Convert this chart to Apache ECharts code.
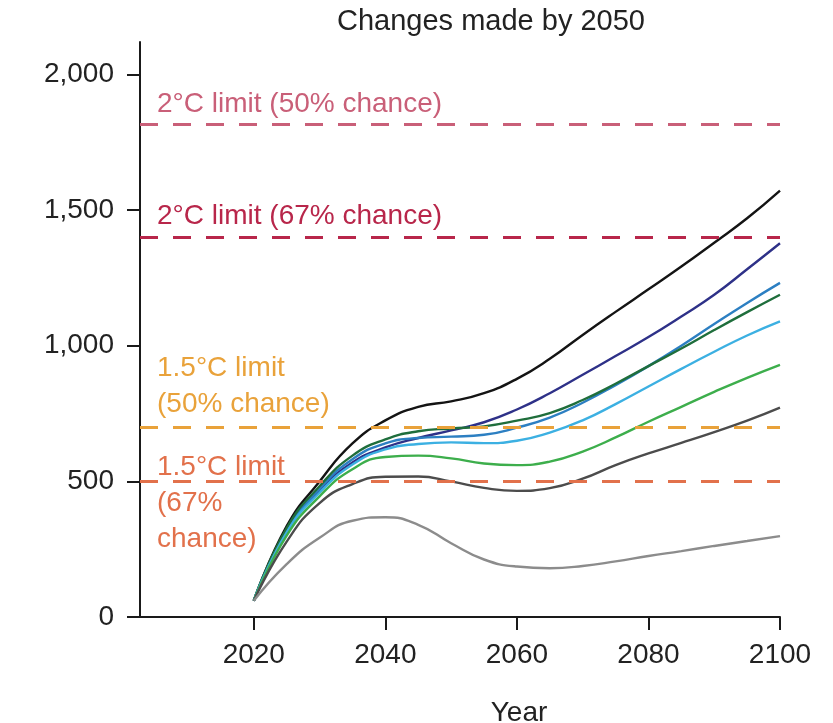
<!DOCTYPE html>
<html>
<head>
<meta charset="utf-8">
<script src="https://cdn.jsdelivr.net/npm/echarts@6/dist/echarts.min.js"></script>
<style>
html,body{margin:0;padding:0;background:#fff;}
#chart{width:833px;height:723px;}
</style>
</head>
<body>
<div id="chart"></div>
<script>
var years = [2020, 2025, 2030, 2035, 2040, 2045, 2050, 2055, 2060, 2065, 2070, 2075, 2080, 2085, 2090, 2095, 2100];

var blackSeries     = [60, 335, 500, 640, 725, 775, 795, 825, 878, 952, 1040, 1125, 1208, 1292, 1380, 1470, 1572];
var navySeries      = [60, 315, 465, 570, 625, 660, 688, 718, 765, 825, 893, 962, 1032, 1108, 1188, 1282, 1378];
var blueSeries      = [60, 320, 472, 582, 640, 660, 665, 672, 698, 735, 790, 855, 925, 1000, 1080, 1158, 1232];
var darkGreenSeries = [60, 328, 482, 595, 655, 685, 695, 703, 724, 752, 800, 860, 925, 990, 1058, 1124, 1188];
var lightBlueSeries = [60, 312, 458, 562, 618, 638, 644, 641, 650, 680, 725, 785, 850, 915, 978, 1038, 1090];
var greenSeries     = [60, 300, 445, 545, 590, 595, 585, 566, 560, 573, 610, 662, 720, 775, 830, 882, 930];
var darkGraySeries  = [60, 278, 420, 490, 517, 518, 500, 476, 465, 475, 510, 560, 603, 642, 682, 724, 772];
var lightGraySeries = [60, 195, 292, 355, 368, 340, 272, 212, 186, 180, 188, 205, 225, 243, 262, 280, 298];

var xTickLabels = [2020, 2040, 2060, 2080, 2100];
var yTickLabels = [0, 500, 1000, 1500, 2000];

var limitValues = [1815, 1400, 700, 500];
var limitNames = ['2°C limit (50% chance)', '2°C limit (67% chance)', '1.5°C limit\n(50% chance)', '1.5°C limit\n(67%\nchance)'];

var titleText = 'Changes made by 2050';
var xAxisName = 'Year';

var lineNames = ['black', 'navy', 'blue', 'darkGreen', 'lightBlue', 'green', 'darkGray', 'lightGray'];
var lineValues = [blackSeries, navySeries, blueSeries, darkGreenSeries, lightBlueSeries, greenSeries, darkGraySeries, lightGraySeries];
var lineColors = ['#141414', '#2e3188', '#2c7fc2', '#1f6e3c', '#3cb0e2', '#3dae4c', '#4c4c4c', '#8c8c8c'];
var limitColors = ['#c95f78', '#b8264a', '#e9a23a', '#e2714b'];

var FONT = '"Liberation Sans", Arial, Helvetica, sans-serif';

function pairs(vals) {
  return vals.map(function (v, i) { return [years[i], v]; });
}

var series = lineValues.map(function (vals, i) {
  return {
    name: lineNames[i],
    type: 'line',
    data: pairs(vals),
    smooth: 0.5,
    showSymbol: false,
    silent: true,
    z: 3,
    lineStyle: { color: lineColors[i], width: 2.4 }
  };
});

series.push({
  name: 'limits',
  type: 'line',
  data: [],
  silent: true,
  z: 2,
  markLine: {
    silent: true,
    symbol: ['none', 'none'],
    label: { show: false },
    data: limitValues.map(function (v, i) {
      return { yAxis: v, lineStyle: { color: limitColors[i], width: 3, type: [18, 15] } };
    })
  }
});

var labelCenters = [104, 216, 368, 467];
var graphics = limitNames.map(function (t, i) {
  return {
    type: 'text',
    x: 157,
    y: labelCenters[i] - 18,
    z: 10,
    style: {
      text: t,
      font: '28px ' + FONT,
      fill: limitColors[i],
      lineHeight: 36,
      verticalAlign: 'top',
      align: 'left'
    }
  };
});
graphics.push({
  type: 'text', x: 491, y: 22, z: 10,
  style: { text: titleText, font: '29px ' + FONT, fill: '#222', align: 'center', verticalAlign: 'middle' }
});
graphics.push({
  type: 'text', x: 519, y: 713, z: 10,
  style: { text: xAxisName, font: '28px ' + FONT, fill: '#222', align: 'center', verticalAlign: 'middle' }
});

var chart = echarts.init(document.getElementById('chart'), null, { renderer: 'canvas' });
chart.setOption({
  animation: false,
  backgroundColor: '#ffffff',
  grid: { left: 140, right: 53, top: 42, bottom: 106, containLabel: false },
  xAxis: {
    type: 'value',
    min: 2002.7,
    max: 2100,
    axisLine: { show: true, lineStyle: { color: '#1a1a1a', width: 2 } },
    axisTick: { show: true, customValues: xTickLabels, length: 13, inside: false, lineStyle: { color: '#1a1a1a', width: 2 } },
    axisLabel: {
      customValues: xTickLabels, margin: 24, fontSize: 28, fontFamily: FONT, color: '#222',
      formatter: function (v) { return String(v); }
    },
    splitLine: { show: false }
  },
  yAxis: {
    type: 'value',
    min: 0,
    max: 2120,
    axisLine: { show: true, lineStyle: { color: '#1a1a1a', width: 2 } },
    axisTick: { show: true, customValues: yTickLabels, length: 13, inside: false, lineStyle: { color: '#1a1a1a', width: 2 } },
    axisLabel: {
      customValues: yTickLabels, margin: 26, fontSize: 28, fontFamily: FONT, color: '#222',
      formatter: function (v) { return v.toLocaleString('en-US'); }
    },
    splitLine: { show: false }
  },
  series: series,
  graphic: graphics
});
</script>
</body>
</html>
